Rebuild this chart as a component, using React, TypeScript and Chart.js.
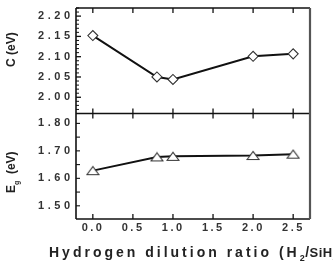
import React, { useEffect, useRef } from "react";
import { Chart, registerables } from "chart.js";

Chart.register(...registerables);

// Hydrogen dilution ratio H2/SiH4
const dilution = [0.0, 0.8, 1.0, 2.0, 2.5];
// Upper panel: C (eV)
const cValues = [2.152, 2.05, 2.044, 2.101, 2.107];
// Lower panel: optical gap Eg (eV)
const egValues = [1.628, 1.678, 1.68, 1.683, 1.688];

const xTickValues = [0.0, 0.5, 1.0, 1.5, 2.0, 2.5];
const cTickValues = [2.0, 2.05, 2.1, 2.15, 2.2];
const egTickValues = [1.5, 1.6, 1.7, 1.8];

const TEXT = "#333";
const FONT = "'Liberation Sans', Arial, sans-serif";

function makeTriangle(): HTMLCanvasElement {
  const c = document.createElement("canvas");
  c.width = 14;
  c.height = 11;
  const g = c.getContext("2d")!;
  g.beginPath();
  g.moveTo(1, 9.5);
  g.lineTo(13, 9.5);
  g.lineTo(7, 1.5);
  g.closePath();
  g.fillStyle = "#ffffff";
  g.fill();
  g.lineWidth = 1.1;
  g.strokeStyle = "#333";
  g.stroke();
  return c;
}

function tickLine(ctx: CanvasRenderingContext2D, x1: number, y1: number, x2: number, y2: number) {
  ctx.beginPath();
  ctx.moveTo(x1, y1);
  ctx.lineTo(x2, y2);
  ctx.stroke();
}

type Part = { t: string; sub?: boolean; size?: number; sp?: number };

// Draws a run of text pieces; pieces flagged "sub" are smaller and lowered.
function drawRich(ctx: CanvasRenderingContext2D, parts: Part[], x: number, y: number, size: number, spacing: number) {
  let cx = x;
  for (const p of parts) {
    const base = p.size ?? size;
    const s = p.sub ? Math.round(base * 0.62) : base;
    const sp = p.sp ?? spacing;
    ctx.font = `bold ${s}px ${FONT}`;
    (ctx as any).letterSpacing = `${sp}px`;
    ctx.fillText(p.t, cx, p.sub ? y + base * 0.3 : y);
    cx += ctx.measureText(p.t).width;
  }
}

// Spaced tick label; align "right" puts the last glyph's edge at x.
function spacedLabel(
  ctx: CanvasRenderingContext2D,
  text: string,
  x: number,
  y: number,
  spacing: number,
  align: "right" | "center"
) {
  ctx.font = `bold 11px ${FONT}`;
  (ctx as any).letterSpacing = `${spacing}px`;
  const w = ctx.measureText(text).width - spacing;
  const sx = align === "right" ? x - w : x - w / 2;
  ctx.textAlign = "left";
  ctx.fillText(text, sx, y);
}

const framePlugin = {
  id: "frame",
  afterDraw(chart: any) {
    const { ctx, chartArea } = chart;
    const x = chart.scales.x;
    const yC = chart.scales.yC;
    const yE = chart.scales.yE;
    const { left, right, top, bottom } = chartArea;
    const mid = yC.bottom;

    ctx.save();
    ctx.strokeStyle = "#111";
    ctx.lineWidth = 1.6;
    tickLine(ctx, left, top, right, top);
    tickLine(ctx, left, top, left, bottom);
    tickLine(ctx, left, bottom, right, bottom);
    tickLine(ctx, left, mid, right, mid);
    ctx.strokeStyle = "#555";
    ctx.lineWidth = 2.2;
    tickLine(ctx, right, top, right, bottom);

    ctx.strokeStyle = "#111";
    ctx.lineWidth = 1.3;
    for (const v of xTickValues) {
      const px = x.getPixelForValue(v);
      tickLine(ctx, px, top, px, top + 5);
      tickLine(ctx, px, mid - 5, px, mid + 5);
      tickLine(ctx, px, bottom, px, bottom - 5);
    }
    // upper panel: minor ticks every 0.01, majors every 0.05
    for (let i = 197; i <= 222; i++) {
      const py = yC.getPixelForValue(i / 100);
      const major = i % 5 === 0;
      ctx.lineWidth = major ? 1.3 : 1;
      tickLine(ctx, left, py, left + (major ? 5 : 3), py);
    }
    // lower panel: ticks every 0.05
    ctx.lineWidth = 1.1;
    for (let i = 30; i <= 36; i++) {
      const py = yE.getPixelForValue(i / 20);
      tickLine(ctx, left, py, left + 4, py);
    }

    // tick labels
    ctx.fillStyle = TEXT;
    ctx.textBaseline = "middle";
    for (const v of cTickValues) {
      spacedLabel(ctx, v.toFixed(2), left - 6, yC.getPixelForValue(v), 3.5, "right");
    }
    for (const v of egTickValues) {
      spacedLabel(ctx, v.toFixed(2), left - 6, yE.getPixelForValue(v), 3.5, "right");
    }
    for (const v of xTickValues) {
      spacedLabel(ctx, v.toFixed(1), x.getPixelForValue(v) - 1, bottom + 9, 2.5, "center");
    }

    // axis titles
    ctx.fillStyle = "#222";
    ctx.textBaseline = "alphabetic";
    ctx.textAlign = "left";
    drawRich(
      ctx,
      [
        { t: "Hydrogen dilution ratio (H" },
        { t: "2", sub: true, sp: 0.5 },
        { t: "/", sp: 0.5 },
        { t: "SiH", sp: 0.5, size: 13 },
        { t: "4", sub: true, sp: 0.5 },
        { t: ")", sp: 0 },
      ],
      49,
      257,
      14,
      3.0
    );

    ctx.save();
    ctx.translate(15, 67);
    ctx.rotate(-Math.PI / 2);
    drawRich(ctx, [{ t: "C (eV)" }], 0, 0, 12, 0);
    ctx.restore();

    ctx.save();
    ctx.translate(15, 193);
    ctx.rotate(-Math.PI / 2);
    drawRich(ctx, [{ t: "E" }, { t: "g", sub: true }, { t: "  (eV)" }], 0, 0, 12, 0);
    ctx.restore();

    ctx.restore();
  },
};

export default function App() {
  const ref = useRef<HTMLCanvasElement | null>(null);

  useEffect(() => {
    if (!ref.current) return;
    const tri = makeTriangle();

    const chart = new Chart(ref.current, {
      type: "scatter",
      data: {
        datasets: [
          {
            label: "C",
            data: dilution.map((d, i) => ({ x: d, y: cValues[i] })),
            yAxisID: "yC",
            showLine: true,
            borderColor: "#111",
            borderWidth: 2,
            pointStyle: "rectRot",
            pointRadius: 5,
            pointBackgroundColor: "#ffffff",
            pointBorderColor: "#333",
            pointBorderWidth: 1.1,
          },
          {
            label: "Eg",
            data: dilution.map((d, i) => ({ x: d, y: egValues[i] })),
            yAxisID: "yE",
            showLine: true,
            borderColor: "#111",
            borderWidth: 2,
            pointStyle: tri as any,
            pointRadius: 6,
          },
        ],
      },
      options: {
        animation: false,
        responsive: true,
        maintainAspectRatio: false,
        layout: { padding: { left: 0, top: 7, right: 23, bottom: 0 } },
        plugins: { legend: { display: false }, tooltip: { enabled: false } },
        scales: {
          x: {
            type: "linear",
            min: -0.21,
            max: 2.71,
            grid: { display: false, drawTicks: false },
            border: { display: false },
            ticks: { display: false },
            afterBuildTicks: (s: any) => {
              s.ticks = xTickValues.map((v) => ({ value: v }));
            },
            afterFit: (s: any) => {
              s.height = 42;
            },
          },
          yE: {
            type: "linear",
            position: "left",
            stack: "panels",
            stackWeight: 1,
            min: 1.452,
            max: 1.836,
            grid: { display: false, drawTicks: false },
            border: { display: false },
            ticks: { display: false },
            afterBuildTicks: (s: any) => {
              s.ticks = egTickValues.map((v) => ({ value: v }));
            },
            afterFit: (s: any) => {
              s.width = 76;
            },
          },
          yC: {
            type: "linear",
            position: "left",
            stack: "panels",
            stackWeight: 1,
            min: 1.96,
            max: 2.22,
            grid: { display: false, drawTicks: false },
            border: { display: false },
            ticks: { display: false },
            afterBuildTicks: (s: any) => {
              s.ticks = cTickValues.map((v) => ({ value: v }));
            },
            afterFit: (s: any) => {
              s.width = 76;
            },
          },
        },
      },
      plugins: [framePlugin],
    });
    return () => chart.destroy();
  }, []);

  return (
    <div style={{ position: "absolute", left: 0, top: 0, width: 333, height: 261, background: "#fff" }}>
      <canvas ref={ref} />
    </div>
  );
}
